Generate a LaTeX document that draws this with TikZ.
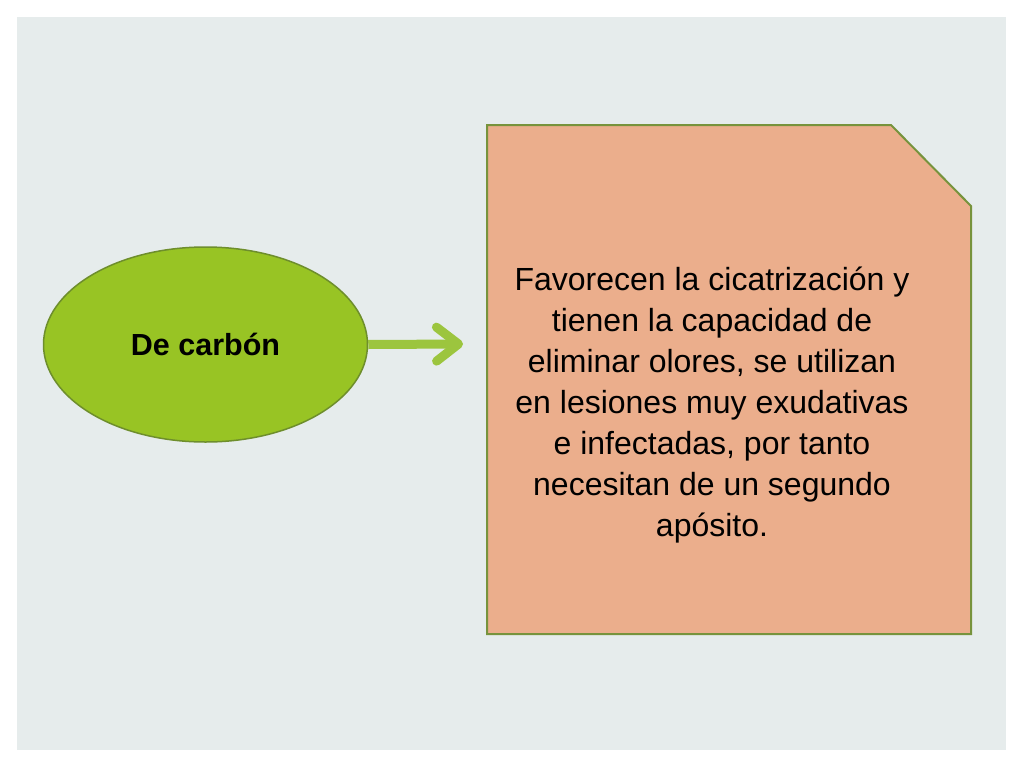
\documentclass[tikz,border=0pt]{standalone}
\usepackage{fontspec}
\setmainfont{Liberation Sans}
\usetikzlibrary{shapes.geometric,arrows.meta}

\definecolor{fondo}{HTML}{E6ECEC}
\definecolor{verde}{HTML}{98C424}
\definecolor{verdeborde}{HTML}{6E8E2C}
\definecolor{flecha}{HTML}{9CC53E}
\definecolor{salmon}{HTML}{EBAE8C}
\definecolor{salmonborde}{HTML}{77933C}

\begin{document}
\begin{tikzpicture}[x=1pt,y=-1pt,
		tipo/.style={ellipse,draw=verdeborde,fill=verde,line width=1.5pt,minimum width=324pt,minimum height=195pt,inner sep=0pt,font=\fontsize{30.5}{34}\selectfont\bfseries},
		texto/.style={align=center,font=\fontsize{32}{41}\selectfont}]
		\useasboundingbox (0,0) rectangle (1024,768);
		\fill[fondo] (17,17) rectangle (1006,750);
		
		\draw[salmonborde,fill=salmon,line width=2pt] (487,125) -- (891,125) -- (971,206) -- (971,634) -- (487,634) -- cycle;
		
		\node[tipo] (carbon) at (205.5,344.5) {De carbón};
		\coordinate (punta) at (463,344);
		\draw[flecha,line width=9pt,-{Straight Barb[length=22pt,width=34pt,round]}] (carbon.east) -- (punta);
		
		\node[texto] (desc) at (712,405) {Favorecen la cicatrización y\\tienen la capacidad de\\eliminar olores, se utilizan\\en lesiones muy exudativas\\e infectadas, por tanto\\necesitan de un segundo\\apósito.};
	\end{tikzpicture}
\end{document}
